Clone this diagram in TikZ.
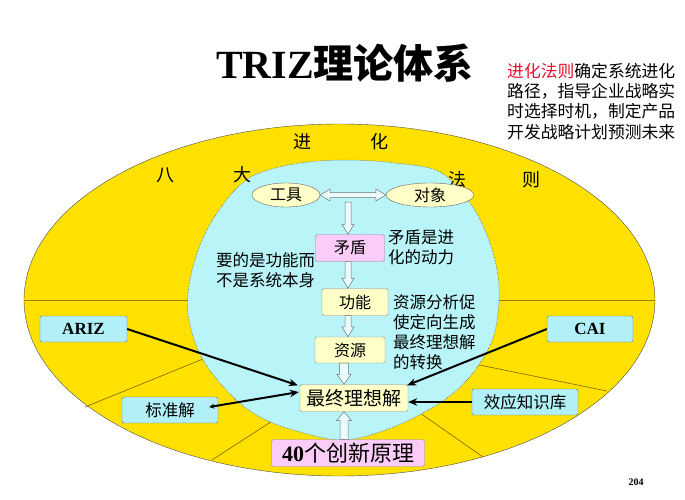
\documentclass[tikz,border=0pt]{standalone}
\usepackage{fontspec}
\setmainfont{Liberation Serif}
\newfontfamily\cjk{Noto Sans CJK SC}
\usetikzlibrary{arrows.meta,calc,shapes.geometric}
\definecolor{gold}{HTML}{FFE100}
\definecolor{skyc}{HTML}{B8F4F8}
\definecolor{lyel}{HTML}{FFFFC8}
\definecolor{lpink}{HTML}{FCCCF8}
\definecolor{lcyan}{HTML}{B0F0F6}
\definecolor{redt}{HTML}{E8102E}
\definecolor{olivel}{HTML}{9A7F00}
\newcommand\fsz[1]{\fontsize{#1}{#1}\selectfont}
\newcommand\dblarrow[2]{\filldraw[hollow] let \p1=(#1), \p2=(#2) in
 (\x1,\y1) -- (\x1+10pt,\y1+6pt) -- (\x1+10pt,\y1+2.5pt) -- (\x2-10pt,\y1+2.5pt) -- (\x2-10pt,\y1+6pt) -- (\x2,\y1) -- (\x2-10pt,\y1-6pt) -- (\x2-10pt,\y1-2.5pt) -- (\x1+10pt,\y1-2.5pt) -- (\x1+10pt,\y1-6pt) -- cycle;}
\newcommand\blkdown[4]{\filldraw[hollow] let \p1=(#1), \p2=(#2) in
 (\x1-#3,\y1) -- (\x1-#3,\y2+10pt) -- (\x1-#4,\y2+10pt) -- (\x1,\y2) -- (\x1+#4,\y2+10pt) -- (\x1+#3,\y2+10pt) -- (\x1+#3,\y1) -- cycle;}
\newcommand\blkup[4]{\filldraw[hollow] let \p1=(#1), \p2=(#2) in
 (\x1-#3,\y1) -- (\x1-#3,\y2-9pt) -- (\x1-#4,\y2-9pt) -- (\x1,\y2) -- (\x1+#4,\y2-9pt) -- (\x1+#3,\y2-9pt) -- (\x1+#3,\y1) -- cycle;}
\begin{document}
\begin{tikzpicture}[x=1pt,y=-1pt,
  ybox/.style={draw=black!45, fill=lyel, rounded corners=1.5pt, inner sep=0pt, minimum height=26pt, font=\cjk\fsz{16}},
  pbox/.style={ybox, fill=lpink},
  cbox/.style={ybox, fill=lcyan, draw=black!55},
  oval/.style={ellipse, draw=black!60, fill=lyel, inner sep=0pt, minimum height=24pt, font=\cjk\fsz{16}},
  bigarr/.style={line width=2pt, -{Stealth[length=9pt,width=7.5pt]}},
  hollow/.style={draw=black!55, fill=white!70!skyc, line width=0.5pt},
  lab/.style={font=\cjk\fsz{18}, inner sep=0pt},
  note/.style={font=\cjk\fontsize{16.5}{20}\selectfont, align=left, inner sep=0pt, anchor=north west}]
\useasboundingbox (0,0) rectangle (685,500);
\fill[white] (0,0) rectangle (685,500);

% outer ellipse
\draw[fill=gold, draw=black!70, line width=0.4pt] (339.5,300) ellipse [x radius=315.5, y radius=176];
% dividing lines
\draw[olivel, line width=0.8pt] (24,300) -- (230,300);
\draw[olivel, line width=0.8pt] (460,300) -- (655,300);
\draw[olivel!80!black, line width=0.6pt] (85,407) -- (230,348);
\draw[olivel!80!black, line width=0.6pt] (212,460) -- (300,403);
\draw[olivel!80!black, line width=0.6pt] (607,391) -- (450,359);
\draw[olivel!80!black, line width=0.6pt] (483,457) -- (400,399);

% inner region
\draw[fill=skyc, draw=black!70, densely dotted, line width=0.5pt]
  plot[smooth cycle, tension=0.6] coordinates {
  (300,163) (345,160) (395,163) (440,172) (470,203) (487,235) (497,270) (499,300)
  (494,335) (480,363) (457,390) (423,413) (380,432) (340,440) (293,430) (260,417)
  (233,397) (203,360) (189,320) (189,285) (200,245) (217,213) (240,185) (262,172)};

% region labels
\node[lab] (ba) at (165,175) {八};
\node[lab] (da) at (242,175) {大};
\node[lab] (jin) at (302,142) {进};
\node[lab] (hua) at (379,142) {化};
\node[lab] (fa) at (457,180) {法};
\node[lab] (ze) at (531,180) {则};

% title and note
\node[inner sep=0pt] (title) at (345,63) {\fsz{40}\bfseries TRIZ{\cjk 理论体系}};
\node[note, font=\cjk\fontsize{16.8}{20.2}\selectfont] (intro) at (507,63) {{\color{redt}进化法则}确定系统进化\\路径，指导企业战略实\\时选择时机，制定产品\\开发战略计划预测未来};

% nodes
\node[oval, minimum width=68pt] (tool) at (286,195) {工具};
\node[oval, minimum width=88pt] (obj) at (430,195) {对象};
\node[pbox, minimum width=69pt, minimum height=27pt] (mao) at (350,248) {矛盾};
\node[ybox, minimum width=66pt, minimum height=27pt] (gong) at (355,302) {功能};
\node[ybox, minimum width=70pt] (res) at (350,350) {资源};
\node[ybox, minimum width=108pt, minimum height=27pt, font=\cjk\fsz{19}] (final) at (354,398) {最终理想解};
\node[pbox, minimum width=153pt, minimum height=27pt, font=\cjk\fsz{22}] (forty) at (348,453) {{\rmfamily\bfseries 40}个创新原理};
\node[cbox, minimum width=87pt, font=\rmfamily\bfseries\fsz{17}] (ariz) at (83.5,329) {ARIZ};
\node[cbox, minimum width=86pt, font=\rmfamily\bfseries\fsz{17}] (cai) at (590,329) {CAI};
\node[cbox, minimum width=96pt, font=\cjk\fsz{16.5}] (std) at (170,410) {标准解};
\node[cbox, minimum width=106pt, font=\cjk\fsz{16.5}] (eff) at (525,402) {效应知识库};

% side texts
\node[note] (t1) at (388,230) {矛盾是进\\化的动力};
\node[note] (t2) at (216,252) {要的是功能而\\不是系统本身};
\node[note] (t3) at (393,294) {资源分析促\\使定向生成\\最终理想解\\的转换};

\node[inner sep=0pt, font=\rmfamily\bfseries\fsz{10}] (page) at (636,482) {204};

% hollow arrows
\coordinate (axis) at (348,0);
\coordinate (axisb) at (344,0);
\coordinate (topstart) at (348,202);
\dblarrow{tool.east}{obj.west}
\blkdown{topstart}{axis |- mao.north}{3pt}{6pt}
\blkdown{axis |- mao.south}{axis |- gong.north}{3pt}{6pt}
\blkdown{axis |- gong.south}{axis |- res.north}{3pt}{6pt}
\blkdown{axisb |- res.south}{axisb |- final.north}{4.5pt}{7pt}
\blkup{axisb |- forty.north}{axisb |- final.south}{4pt}{7.5pt}

% black arrows
\draw[bigarr] (ariz.east) -- ($(final.north west)+(-2,1)$);
\draw[line width=2pt, {Stealth[length=5pt,width=5pt]}-{Stealth[length=9pt,width=7.5pt]}]
  ($(std.east)+(-9,-3)$) -- ($(final.west)+(-1,-6)$);
\draw[bigarr] (cai.west) -- ($(final.north east)+(-1,1)$);
\draw[bigarr] (eff.west) -- (final.east |- eff.west);
\end{tikzpicture}
\end{document}
